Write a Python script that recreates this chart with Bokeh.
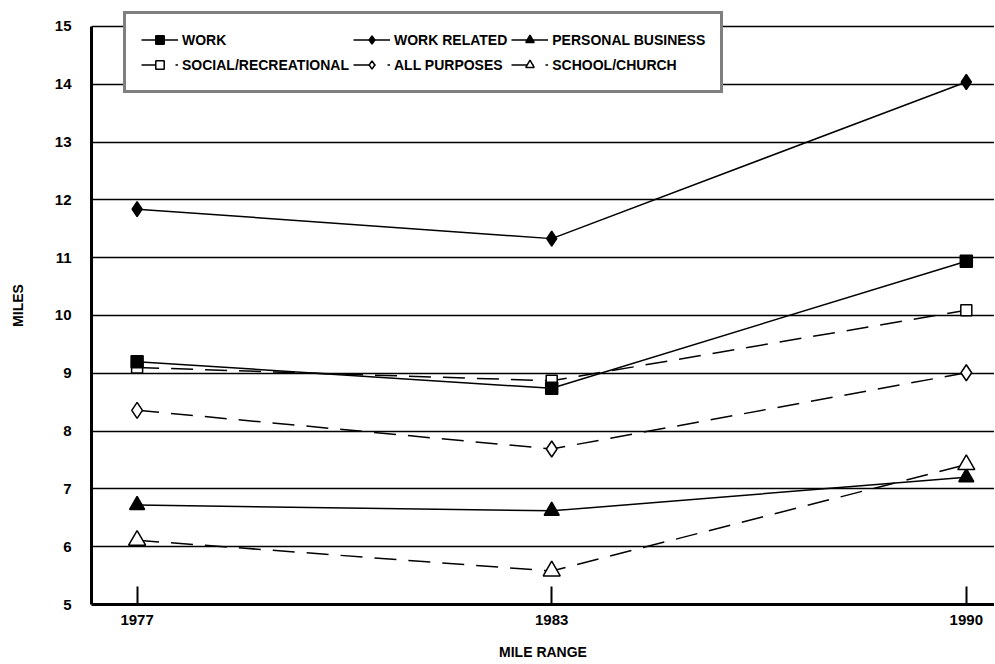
from bokeh.plotting import figure
from bokeh.models import FixedTicker, Legend, LegendItem, Range1d
from bokeh.embed import file_html
from bokeh.resources import INLINE

# ---- data ----
years = ["1977", "1983", "1990"]
work = [9.20, 8.74, 10.94]
social_recreational = [9.10, 8.87, 10.09]
work_related = [11.84, 11.33, 14.04]
all_purposes = [8.36, 7.69, 9.01]
personal_business = [6.72, 6.62, 7.20]
school_church = [6.11, 5.58, 7.42]
y_ticks = [5, 6, 7, 8, 9, 10, 11, 12, 13, 14, 15]

x_idx = list(range(len(years)))
FONT = "Liberation Sans"

p = figure(width=994, height=662, output_backend="svg", toolbar_location=None,
           x_range=Range1d(-0.110, 2.068), y_range=Range1d(5, 15.346),
           min_border_left=91, min_border_right=0, min_border_top=6, min_border_bottom=58)
p.outline_line_color = None
p.background_fill_color = "white"
p.border_fill_color = "white"

# axes
p.yaxis.ticker = FixedTicker(ticks=y_ticks)
p.yaxis.bounds = (min(y_ticks), max(y_ticks))
p.xaxis.ticker = FixedTicker(ticks=x_idx)
p.xaxis.major_label_overrides = {i: y for i, y in zip(x_idx, years)}
for ax in (p.xaxis[0], p.yaxis[0]):
    ax.axis_line_width = 3
    ax.axis_line_color = "black"
    ax.minor_tick_line_color = None
    ax.major_label_text_font = FONT
    ax.major_label_text_font_style = "bold"
    ax.major_label_text_font_size = "15px"
    ax.major_label_text_color = "black"
    ax.axis_label_text_font = FONT
    ax.axis_label_text_font_style = "bold"
    ax.axis_label_text_font_size = "14px"
    ax.axis_label_text_color = "black"
p.yaxis.major_tick_in = 0
p.yaxis.major_tick_out = 0
p.yaxis.major_label_standoff = 20
p.yaxis.axis_label = "MILES"
p.yaxis.axis_label_standoff = 26
p.xaxis.major_tick_in = 18
p.xaxis.major_tick_out = 0
p.xaxis.major_tick_line_width = 2
p.xaxis.major_tick_line_color = "black"
p.xaxis.major_label_standoff = 10
p.xaxis.axis_label = "MILE RANGE"
p.xaxis.axis_label_standoff = 16

p.xgrid.grid_line_color = None
p.ygrid.ticker = FixedTicker(ticks=y_ticks)
p.ygrid.grid_line_color = "black"
p.ygrid.grid_line_width = 1.5

series = [
    ("SOCIAL/RECREATIONAL", social_recreational, "22 12", "square", 11, "white"),
    ("WORK", work, "solid", "square", 12, "black"),
    ("WORK RELATED", work_related, "solid", "diamond", 15, "black"),
    ("ALL PURPOSES", all_purposes, "22 12", "diamond", 16, "white"),
    ("PERSONAL BUSINESS", personal_business, "solid", "triangle", 15, "black"),
    ("SCHOOL/CHURCH", school_church, "22 12", "triangle", 17, "white"),
]
renderers = {}
for name, vals, dash, marker, size, fill in series:
    l = p.line(x_idx, vals, line_color="black", line_width=1.5, line_dash=dash)
    s = p.scatter(x_idx, vals, marker=marker, size=size, fill_color=fill,
                  line_color="black", line_width=1.5)
    renderers[name] = [l, s]

order = ["WORK", "WORK RELATED", "PERSONAL BUSINESS",
         "SOCIAL/RECREATIONAL", "ALL PURPOSES", "SCHOOL/CHURCH"]
legend = Legend(items=[LegendItem(label=n, renderers=renderers[n]) for n in order],
                location=(32, 511), orientation="horizontal", ncols=3)
legend.border_line_color = "black"
legend.border_line_width = 3
legend.background_fill_color = "white"
legend.background_fill_alpha = 1
legend.label_text_font = FONT
legend.label_text_font_style = "bold"
legend.label_text_font_size = "14px"
legend.label_text_color = "black"
legend.glyph_width = 37
legend.glyph_height = 21
legend.label_standoff = 4
legend.spacing = 4
legend.padding = 15
legend.margin = 0
p.add_layout(legend)

open("out.html", "w").write(file_html(p, INLINE))
